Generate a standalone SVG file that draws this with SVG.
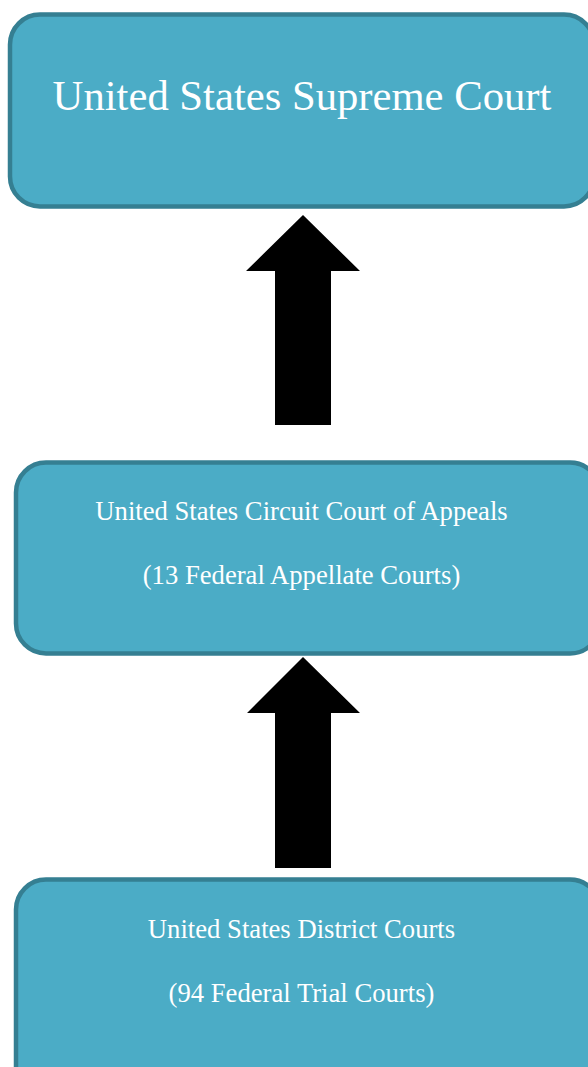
<svg xmlns="http://www.w3.org/2000/svg" width="588" height="1067" viewBox="0 0 588 1067">
<style>
.box{fill:#4BACC6;stroke:#357F92;stroke-width:4.5}
.t{font-family:"Liberation Serif","Times New Roman",serif;fill:#fff;text-anchor:middle}
.s{font-size:26.67px}
.arr{fill:#000}
</style>
<rect width="588" height="1067" fill="#fff"/>
<g id="supreme">
<rect class="box" x="10" y="14.5" width="584" height="192" rx="30"/>
<text class="t" x="302" y="109.5" font-size="42.67">United States Supreme Court</text>
</g>
<g id="circuit">
<rect class="box" x="16" y="462.5" width="584" height="191" rx="30"/>
<text class="t s" x="301.5" y="520">United States Circuit Court of Appeals</text>
<text class="t s" x="301.5" y="584">(13 Federal Appellate Courts)</text>
</g>
<g id="district">
<rect class="box" x="16" y="879.5" width="584" height="220" rx="30"/>
<text class="t s" x="301.5" y="938">United States District Courts</text>
<text class="t s" x="301.5" y="1002">(94 Federal Trial Courts)</text>
</g>
<g id="connectors">
<polygon class="arr" points="303,215 360,271 331,271 331,425 275,425 275,271 246,271"/>
<polygon class="arr" points="303,657 360,713 331,713 331,868 275,868 275,713 247,713"/>
</g>
</svg>
